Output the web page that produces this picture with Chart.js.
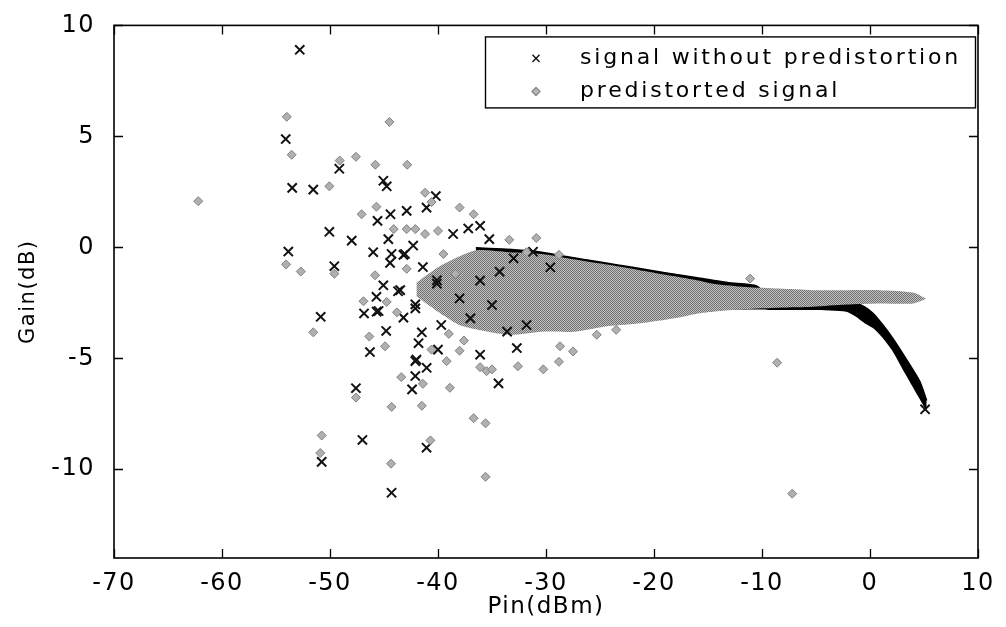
<!DOCTYPE html>
<html>
<head>
<meta charset="utf-8">
<script src="https://cdn.jsdelivr.net/npm/chart.js@4.4.1/dist/chart.umd.min.js"></script>
<style>
  html, body { margin: 0; padding: 0; background: #fff; }
  canvas { display: block; }
</style>
</head>
<body>
<canvas id="c" width="1006" height="627"></canvas>
<script>
// ---- axes ----
const xTicks = [-70, -60, -50, -40, -30, -20, -10, 0, 10];
const yTicks = [-10, -5, 0, 5, 10];
const seriesNames = ['signal without predistortion', 'predistorted signal'];

// ---- dense cloud of the predistorted signal (upper / lower edge) ----
const bandPin      = [-42, -40, -38, -36.4, -33.4, -30.4, -27.3, -24.2, -21.2, -18.1, -15.9, -14.5, -11.5, -8.4, -5.3, -2.2, 0.9, 4.0, 5.2];
const bandGainHigh = [-1.6, -0.9, -0.4, -0.13, -0.22, -0.3, -0.55, -0.79, -1.04, -1.3, -1.49, -1.64, -1.79, -1.86, -1.93, -1.93, -1.93, -2.04, -2.32];
const bandGainLow  = [-2.2, -2.9, -3.5, -3.7, -3.94, -3.8, -3.8, -3.55, -3.42, -3.2, -2.98, -2.9, -2.78, -2.72, -2.68, -2.58, -2.53, -2.53, -2.32];

// ---- dense trace of the signal without predistortion (upper / lower edge) ----
const tracePin      = [-36.5, -34, -31, -28, -25, -22, -19, -16, -13, -10.5, -9.3, -8.6, -5.3, -2.2, -1.3, -0.5, 0.3, 1.2, 2.1, 3.3, 4.6, 5.25];
const traceGainHigh = [-0.02, -0.08, -0.18, -0.43, -0.66, -0.9, -1.14, -1.37, -1.6, -1.74, -2.3, -2.68, -2.63, -2.58, -2.53, -2.68, -2.98, -3.5, -4.09, -4.99, -6.03, -6.9];
const traceGainLow  = [-2.0, -2.2, -2.3, -2.4, -2.5, -2.6, -2.7, -2.75, -2.8, -2.8, -2.82, -2.83, -2.83, -2.9, -3.13, -3.42, -3.65, -4.1, -4.69, -5.73, -6.84, -7.4];

// ---- isolated samples, signal without predistortion ----
const rawPin  = [-52.8, -54.1, -49.14, -53.5, -51.55, -45.06, -44.75, -45.6, -44.4, -50.06, -47.99, -44.6, -53.86, -49.6, -46.0, -44.44, -45.06,
                 -50.86, -46.85, -45.68, -44.8, -46.3, -47.6, -47.0, -50.77, -44.3, -40.2, -41.06, -42.9, -37.2, -36.1, -44.3, -43.2, -42.3,
                 -43.7, -41.4, -40.1, -45.7, -45.5, -43.2, -42.1, -41.5, -41.8, -40.0, -42.0, -41.05, -42.1, -42.4, -41.06, -35.25, -38.6,
                 -43.06, -40.1, -43.5, -42.1, -42.1, -34.4, -39.7, -36.1, -32.7, -38.0, -36.1, -34.3, -33.0, -31.2, -29.6, -33.6, -31.8,
                 -37.0, -35.0, 5.1];
const rawGain = [8.9, 4.88, 3.54, 2.68, 2.6, 3.0, 2.75, 1.19, 1.49, 0.7, 0.3, 0.37, -0.19, -0.85, -0.22, -0.7, -1.71,
                 -3.13, -2.98, -2.9, -3.77, -4.72, -6.35, -8.68, -9.67, -11.06, 2.31, 1.79, 1.64, 0.85, 0.97, -0.3, -0.34, 0.08,
                 -1.98, -0.89, -1.64, -2.23, -2.87, -3.17, -2.75, -3.83, -4.32, -4.61, -5.06, -5.43, -5.8, -6.4, -9.03, 0.37, 0.6,
                 -0.3, -1.49, -1.93, -2.57, -5.13, -6.13, -3.5, -4.84, -4.54, -2.3, -1.5, -1.1, -0.5, -0.2, -0.9, -3.8, -3.5,
                 -3.2, -2.6, -7.3];

// ---- isolated samples, predistorted signal ----
const prePin  = [-62.2, -54.0, -53.55, -49.1, -47.6, -45.8, -44.5, -50.06, -47.07, -45.7, -54.07, -52.7, -49.6, -45.83, -51.55, -46.36,
                 -44.9, -47.6, -44.3, -50.77, -50.9, -44.35, -42.85, -41.2, -40.6, -38.0, -36.7, -44.1, -42.9, -42.1, -41.2, -40.0,
                 -42.9, -46.9, -44.75, -43.8, -40.6, -38.0, -39.2, -43.4, -41.4, -38.9, -41.5, -36.7, -35.6, -40.7, -35.6, -33.4,
                 -30.9, -31.8, -28.8, -30.25, -28.8, -27.5, -28.7, -32.6, -35.5, -25.3, -23.5, -11.1, -8.6, -7.2, -36.1, -35.0,
                 -39.5, -38.4, -37.6, -39.0];
const preGain = [2.08, 5.88, 4.17, 3.91, 4.08, 3.72, 5.65, 2.75, 1.49, 1.83, -0.77, -1.09, -1.19, -1.26, -3.83, -4.02,
                 -4.46, -6.77, -7.19, -8.48, -9.27, -9.75, 3.72, 2.46, 2.04, 1.79, 1.49, 0.82, 0.82, 0.82, 0.6, 0.74,
                 -0.97, -2.43, -2.46, -2.93, -4.61, -4.66, -5.13, -5.85, -6.15, -6.33, -7.14, -7.7, -7.93, -8.7, -10.34, 0.34,
                 0.42, -0.22, -0.34, -5.5, -5.16, -4.69, -4.46, -5.36, -5.58, -3.94, -3.72, -1.41, -5.2, -11.1, -5.4, -5.5,
                 -0.3, -1.2, -4.2, -3.9];

const pts = (xs, ys) => xs.map((x, i) => ({ x, y: ys[i] }));

const canvas = document.getElementById('c');
const ctx0 = canvas.getContext('2d');

// fine dithered grey used for the dense cloud
function dither(dark, light) {
  const t = document.createElement('canvas');
  t.width = 2; t.height = 2;
  const g = t.getContext('2d');
  g.fillStyle = light; g.fillRect(0, 0, 2, 2);
  g.fillStyle = dark; g.fillRect(0, 0, 1, 1); g.fillRect(1, 1, 1, 1);
  return ctx0.createPattern(t, 'repeat');
}
const greyCloud = dither('#707070', '#c2c2c2');

const FONT = 'DejaVu Sans';

// box around the axes, inward ticks on all four sides, and the legend
const framePlugin = {
  id: 'frame',
  beforeDraw(chart) {
    chart.ctx.letterSpacing = '1.5px';
  },
  afterDraw(chart) {
    const { ctx, chartArea: a, scales: { x, y } } = chart;
    ctx.save();
    ctx.strokeStyle = '#000';
    ctx.lineWidth = 1.6;
    ctx.strokeRect(a.left, a.top, a.right - a.left, a.bottom - a.top);
    ctx.lineWidth = 1.3;
    ctx.beginPath();
    const tl = 9;
    xTicks.forEach(v => {
      const px = Math.round(x.getPixelForValue(v)) + 0.5;
      ctx.moveTo(px, a.bottom); ctx.lineTo(px, a.bottom - tl);
      ctx.moveTo(px, a.top); ctx.lineTo(px, a.top + tl);
    });
    yTicks.forEach(v => {
      const py = Math.round(y.getPixelForValue(v)) + 0.5;
      ctx.moveTo(a.left, py); ctx.lineTo(a.left + tl, py);
      ctx.moveTo(a.right, py); ctx.lineTo(a.right - tl, py);
    });
    ctx.stroke();

    // legend
    const L = a.left + 371, T = a.top + 11, R = a.right - 3, B = a.top + 82;
    ctx.fillStyle = '#fff';
    ctx.fillRect(L, T, R - L, B - T);
    ctx.lineWidth = 1.4;
    ctx.strokeStyle = '#000';
    ctx.strokeRect(L + 0.5, T + 0.5, R - L, B - T);
    const rows = [T + 22, T + 55];
    const mx = L + 51;
    ctx.strokeStyle = '#111';
    ctx.fillStyle = '#111';
    Chart.helpers.drawPoint(ctx, { pointStyle: 'crossRot', radius: 5, rotation: 0, borderWidth: 1.4 }, mx, rows[0]);
    ctx.fillStyle = '#b8b8b8';
    ctx.strokeStyle = '#8a8a8a';
    Chart.helpers.drawPoint(ctx, { pointStyle: 'rectRot', radius: 4, rotation: 0, borderWidth: 1 }, mx, rows[1]);
    ctx.fillStyle = '#000';
    ctx.font = '22px "' + FONT + '"';
    ctx.letterSpacing = '2.8px';
    ctx.textBaseline = 'middle';
    ctx.textAlign = 'left';
    ctx.fillText(seriesNames[0], L + 95, rows[0]);
    ctx.fillText(seriesNames[1], L + 95, rows[1]);
    ctx.restore();
  }
};

new Chart(canvas, {
  type: 'scatter',
  data: {
    datasets: [
      {
        type: 'line', label: 'trace-low', data: pts(tracePin, traceGainLow),
        showLine: true, pointRadius: 0, borderWidth: 0, borderColor: '#000', fill: false, tension: 0.2, order: 7
      },
      {
        type: 'line', label: seriesNames[0], data: pts(tracePin, traceGainHigh),
        showLine: true, pointRadius: 0, borderWidth: 1.5, borderColor: '#000', backgroundColor: '#000',
        fill: '-1', tension: 0.2, order: 6
      },
      {
        type: 'line', label: 'band-low', data: pts(bandPin, bandGainLow),
        showLine: true, pointRadius: 0, borderWidth: 0, borderColor: 'rgba(0,0,0,0)', fill: false, tension: 0.25, order: 5
      },
      {
        type: 'line', label: seriesNames[1], data: pts(bandPin, bandGainHigh),
        showLine: true, pointRadius: 0, borderWidth: 0, borderColor: 'rgba(0,0,0,0)', backgroundColor: greyCloud,
        fill: '-1', tension: 0.25, order: 4
      },
      {
        label: seriesNames[0], data: pts(rawPin, rawGain),
        pointStyle: 'crossRot', pointRadius: 6.5, pointBorderWidth: 2,
        pointBorderColor: '#111', pointBackgroundColor: '#111', order: 3
      },
      {
        label: seriesNames[1], data: pts(prePin, preGain),
        pointStyle: 'rectRot', pointRadius: 4.5, pointBorderWidth: 1,
        pointBorderColor: '#808080', pointBackgroundColor: '#b0b0b0', order: 2
      }
    ]
  },
  options: {
    responsive: false,
    animation: false,
    devicePixelRatio: 1,
    layout: { padding: { top: 21, right: 28, left: 0, bottom: 0 } },
    plugins: { legend: { display: false }, tooltip: { enabled: false } },
    scales: {
      x: {
        type: 'linear', min: -70, max: 10,
        afterBuildTicks: s => { s.ticks = xTicks.map(v => ({ value: v })); },
        afterFit: s => { s.height = 69; },
        grid: { display: false }, border: { display: false },
        ticks: { color: '#000', font: { family: FONT, size: 24 }, padding: 3, maxRotation: 0 },
        title: { display: true, text: 'Pin(dBm)', color: '#000', font: { family: FONT, size: 23 }, padding: { top: 0, bottom: 6 } }
      },
      y: {
        type: 'linear', min: -14, max: 10,
        afterBuildTicks: s => { s.ticks = yTicks.map(v => ({ value: v })); },
        afterFit: s => { s.width = 114; },
        grid: { display: false }, border: { display: false },
        ticks: { color: '#000', font: { family: FONT, size: 24 }, padding: 11 },
        title: { display: true, text: 'Gain(dB)', color: '#000', font: { family: FONT, size: 21 }, padding: { top: 16, bottom: 0 } }
      }
    }
  },
  plugins: [framePlugin]
});
</script>
</body>
</html>
